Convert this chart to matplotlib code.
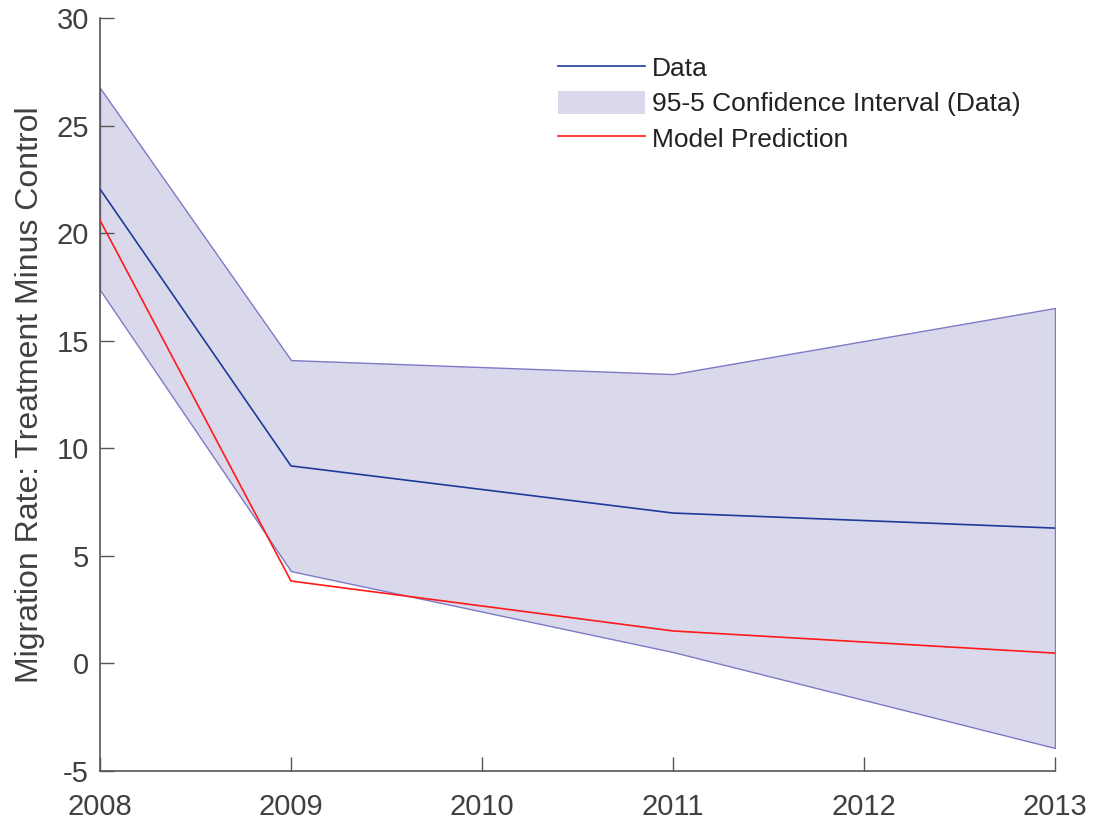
import matplotlib
matplotlib.use("Agg")
import matplotlib.pyplot as plt

years = [2008, 2009, 2011, 2013]
data = [22.05, 9.18, 6.99, 6.29]
ci_upper = [26.75, 14.1, 13.45, 16.52]
ci_lower = [17.36, 4.29, 0.53, -3.93]
model = [20.6, 3.83, 1.51, 0.48]
xticks = [2008, 2009, 2010, 2011, 2012, 2013]
yticks = [-5, 0, 5, 10, 15, 20, 25, 30]

plt.rcParams['font.family'] = ['Liberation Sans', 'DejaVu Sans']

fig = plt.figure(figsize=(10.93, 8.24), dpi=100)
ax = fig.add_axes([100/1093, 53/824, 955/1093, 753/824])

ax.fill_between(years, ci_lower, ci_upper, facecolor='#dad9ec', edgecolor='#7d7ac6',
                linewidth=1.0, label='95-5 Confidence Interval (Data)', zorder=1)
ax.plot(years, data, color='#1f3a9a', linewidth=1.2, label='Data', zorder=3)
ax.plot(years, model, color='#ff1a1a', linewidth=1.2, label='Model Prediction', zorder=3)

ax.set_xlim(2008, 2013)
ax.set_ylim(-5, 30)
ax.set_xticks(xticks)
ax.set_xticklabels([str(t) for t in xticks])
ax.set_yticks(yticks)
ax.set_yticklabels([str(t) for t in yticks])

for s in ['top', 'right']:
    ax.spines[s].set_visible(False)
for s in ['left', 'bottom']:
    ax.spines[s].set_color('#555555')
    ax.spines[s].set_linewidth(1.2)

ax.tick_params(direction='in', length=10, width=1.0, color='#555555',
               labelsize=21, labelcolor='#404040')
ax.tick_params(axis='x', pad=16)
ax.tick_params(axis='y', pad=8)
ax.set_ylabel('Migration Rate: Treatment Minus Control', fontsize=23, color='#404040', labelpad=8)

handles, labels = ax.get_legend_handles_labels()
order = [1, 0, 2]
leg = ax.legend([handles[i] for i in order], [labels[i] for i in order],
                loc='upper left', bbox_to_anchor=(447/955, 1 - 27/753), frameon=False,
                fontsize=19, handlelength=3.3, handleheight=1.0, handletextpad=0.27,
                labelspacing=0.35, borderaxespad=0)
leg.legend_handles[1].set_edgecolor('none')
for t in leg.get_texts():
    t.set_color('#222222')

fig.savefig('out.png', dpi=100)
